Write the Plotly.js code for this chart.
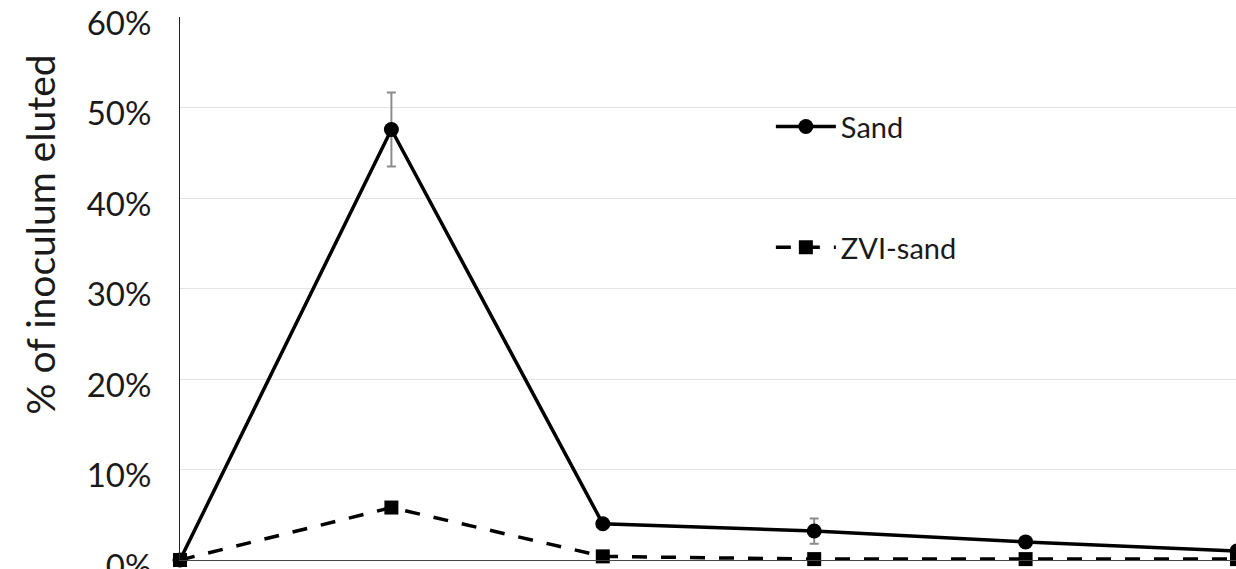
<!DOCTYPE html>
<html><head><meta charset="utf-8">
<script src="https://cdn.plot.ly/plotly-3.0.1.min.js"></script>
<style>html,body{margin:0;padding:0;overflow:hidden;background:#fff}</style>
</head><body><div id="chart"></div>
<script>
const xPos = [0, 1, 2, 3, 4, 5];
const sandVals = [0.000, 0.476, 0.040, 0.032, 0.020, 0.010];
const sandErr = [0.000, 0.041, 0.003, 0.014, 0.003, 0.002];
const zviVals = [0.000, 0.058, 0.004, 0.001, 0.001, 0.001];
const yTicks = [0, 0.1, 0.2, 0.3, 0.4, 0.5, 0.6];
const yTickText = ['0%', '10%', '20%', '30%', '40%', '50%', '60%'];
const yTitle = '% of inoculum eluted';

const FONT = 'Lato, "Open Sans", sans-serif';
const TXT = '#1a1a1a';
const traces = [
  {x: xPos, y: sandVals, name: 'Sand', type: 'scatter', mode: 'lines+markers',
   line: {color: '#000', width: 3.5}, marker: {symbol: 'circle', size: 15, color: '#000'},
   error_y: {type: 'data', array: sandErr, visible: true, color: '#8c8c8c', thickness: 2, width: 4.5},
   cliponaxis: false, legendgroup: 'a'},
  {x: xPos, y: zviVals, name: 'ZVI-sand', type: 'scatter', mode: 'lines+markers',
   line: {color: '#000', width: 3.5, dash: '15px,14px'}, marker: {symbol: 'square', size: 14, color: '#000'},
   cliponaxis: false, legendgroup: 'b'}
];
const layout = {
  width: 1237, height: 569,
  margin: {l: 180, r: 0, t: 17, b: 9},
  paper_bgcolor: '#fff', plot_bgcolor: '#fff',
  font: {family: FONT, color: TXT},
  showlegend: true,
  legend: {x: 0.559, y: 0.845, xanchor: 'left', yanchor: 'top', bgcolor: 'rgba(0,0,0,0)', itemwidth: 60,
           font: {size: 29, family: FONT, color: TXT}, traceorder: 'grouped', tracegroupgap: 80},
  xaxis: {range: [0, 5], showgrid: false, zeroline: false, showticklabels: false, ticks: '',
          showline: true, linecolor: '#444', linewidth: 1},
  yaxis: {range: [0, 0.6004], tickvals: yTicks, ticktext: yTickText, showgrid: true, gridcolor: '#e4e4e4', gridwidth: 1,
          zeroline: false, showline: true, linecolor: '#222', linewidth: 1,
          ticks: 'outside', ticklen: 21, tickcolor: 'rgba(0,0,0,0)', ticklabeloverflow: 'allow', ticklabelshift: 6,
          tickfont: {size: 33, family: FONT, color: TXT}},
  annotations: [{text: yTitle, textangle: -90, xref: 'paper', yref: 'paper', x: -0.132, y: 0.60,
                 xanchor: 'center', yanchor: 'middle', showarrow: false,
                 font: {size: 39, family: FONT, color: TXT}}]
};
Plotly.newPlot('chart', traces, layout, {displayModeBar: false, staticPlot: true});
</script></body></html>
